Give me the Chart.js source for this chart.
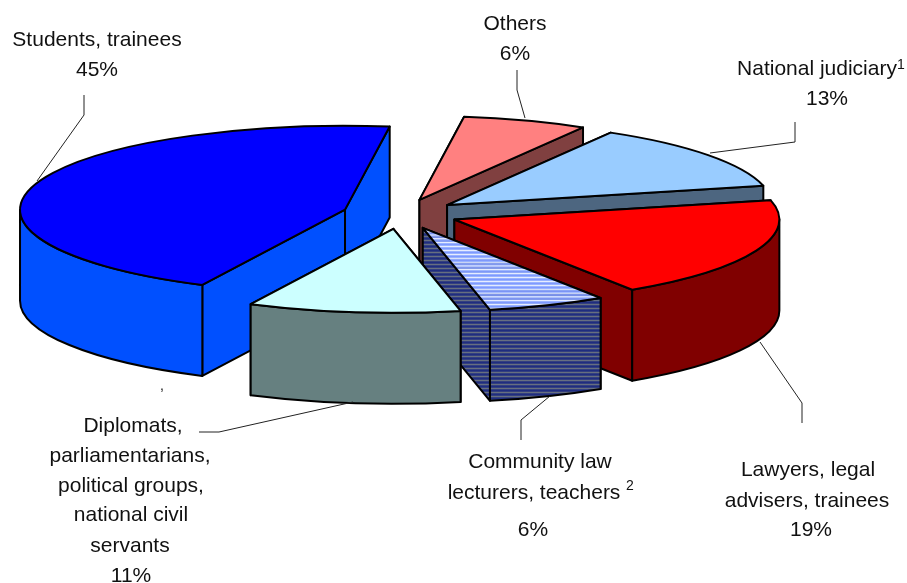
<!DOCTYPE html>
<html>
<head>
<meta charset="utf-8">
<style>
  html,body{margin:0;padding:0;background:#fff;}
  #wrap{width:907px;height:583px;}
</style>
<script src="https://cdn.jsdelivr.net/npm/chart.js@4"></script>
</head>
<body>
<div id="wrap"><canvas id="pie" width="907" height="583"></canvas></div>
<script>
/* ------- DATA ------- */
const categories = ["Others","National judiciary","Lawyers, legal advisers, trainees","Community law lecturers, teachers","Diplomats, parliamentarians, political groups, national civil servants","Students, trainees"];
const shares = [6.2,12.9,19.49,5.9,10.55,44.96];

/* ------- STYLE ------- */
const topColors = ["#ff8080","#99ccff","#ff0000",null,"#ccffff","#0000ff"];
const wallColors = ["#804040","#4d6680","#800000",null,"#668080","#0050ff"];
const drawOrder = [0,1,5,2,3,4];   // back to front

const TILT = 0.258;    // how flat the pie lies
const DEPTH = 91;      // wall height
const EXPLODE = 58;    // slices pulled out from the middle
const RADIUS = 325;
const FONT = '21px "Liberation Sans", Arial, sans-serif';

/* ------- TEXT + LEADERS ------- */
// one entry per category, [line, centre x, baseline]; the last line gets the percent
const labelLines = [
  [["Others",515,30]],
  [["National judiciary",817,75]],
  [["Lawyers, legal",808,476],["advisers, trainees",807,507]],
  [["Community law",540,468],["lecturers, teachers",534,499]],
  [["Diplomats,",133,432],["parliamentarians,",130,462],["political groups,",131,492],["national civil",131,521],["servants",130,552]],
  [["Students, trainees",97,46]]
];
const percentSpots = [[515,60],[827,105],[811,536],[533,536],[131,582],[97,76]];
const extraTexts = [["1",901,69,14],["2",630,490,14],[",",162,390,14]];
const leaders = [
  [[517,70],[517,90],[525,118]],
  [[795,122],[795,142],[710,153]],
  [[802,423],[802,403],[760,342]],
  [[521,440],[521,420],[550,396]],
  [[199,432],[219,432],[353,402]],
  [[84,95],[84,115],[37,181]]
];

/* ------- STRIPES (community law slice) ------- */
function stripes(list,stretch){
  const c = document.createElement("canvas");
  c.width = 2;
  c.height = list.length*stretch;
  const g = c.getContext("2d");
  list.forEach((col,i)=>{
    g.fillStyle = col;
    g.fillRect(0,i*stretch,2,stretch);
  });
  return g.createPattern(c,"repeat");
}
const ctxMain = document.getElementById("pie").getContext("2d");
topColors[3] = stripes(["#e6ecff","#99b3ff","#7f99ff","#99b3ff"],1/TILT);
wallColors[3] = stripes(["#666f80","#333f80","#1f2d80","#333f80"],1);

/* ------- 3D DRAW ------- */
function tilt(ctx,cy){
  ctx.translate(0,cy);
  ctx.scale(1,TILT);
  ctx.translate(0,-cy);
}

// parts of the rim that face the viewer
function frontSpans(a,b){
  const TAU = Math.PI*2;
  const start = ((a%TAU)+TAU)%TAU;
  const end = start+(b-a);
  const spans = [];
  [[0,Math.PI],[TAU,TAU+Math.PI]].forEach(r=>{
    const s = Math.max(start,r[0]), e = Math.min(end,r[1]);
    if(e>s) spans.push([s,e]);
  });
  return spans;
}

function paintFace(ctx,color){
  ctx.fillStyle = color;
  ctx.fill();
  ctx.stroke();
}

function drawSlice(ctx,arc,i){
  const {x,y,startAngle,endAngle,outerRadius} = arc.getProps(["x","y","startAngle","endAngle","outerRadius"],true);
  const mid = (startAngle+endAngle)/2;
  const ox = x+Math.cos(mid)*EXPLODE;
  const dy = Math.sin(mid)*EXPLODE*TILT;
  const apexY = y+dy;
  const rimX = a=>ox+Math.cos(a)*outerRadius;
  const rimY = a=>apexY+Math.sin(a)*outerRadius*TILT;

  ctx.lineWidth = 2;
  ctx.lineJoin = "round";
  ctx.strokeStyle = "#000";

  // cut faces
  [startAngle,endAngle].forEach(a=>{
    ctx.beginPath();
    ctx.moveTo(ox,apexY);
    ctx.lineTo(rimX(a),rimY(a));
    ctx.lineTo(rimX(a),rimY(a)+DEPTH);
    ctx.lineTo(ox,apexY+DEPTH);
    ctx.closePath();
    paintFace(ctx,wallColors[i]);
  });

  // outer wall
  frontSpans(startAngle,endAngle).forEach(s=>{
    ctx.beginPath();
    ctx.save();
    ctx.translate(ox-x,dy);
    tilt(ctx,y);
    ctx.arc(x,y,outerRadius,s[0],s[1]);
    ctx.restore();
    ctx.save();
    ctx.translate(ox-x,dy+DEPTH);
    tilt(ctx,y);
    ctx.arc(x,y,outerRadius,s[1],s[0],true);
    ctx.restore();
    ctx.closePath();
    paintFace(ctx,wallColors[i]);
  });

  // top, filled by the chart's own arc element
  ctx.save();
  ctx.translate(ox-x,dy);
  tilt(ctx,y);
  arc.draw(ctx);
  ctx.restore();

  // outline in screen space so the line stays even
  ctx.beginPath();
  ctx.save();
  ctx.translate(ox-x,dy);
  tilt(ctx,y);
  ctx.moveTo(x,y);
  ctx.arc(x,y,outerRadius,startAngle,endAngle);
  ctx.closePath();
  ctx.restore();
  ctx.stroke();
}

const pie3d = {
  id:"pie3d",
  beforeDatasetDraw(chart,args){
    const arcs = args.meta.data;
    drawOrder.forEach(i=>drawSlice(chart.ctx,arcs[i],i));
    return false;
  },
  afterDraw(chart){
    const ctx = chart.ctx;
    ctx.save();
    ctx.strokeStyle = "#222";
    ctx.lineWidth = 1;
    leaders.forEach(pts=>{
      ctx.beginPath();
      pts.forEach((p,n)=> n ? ctx.lineTo(p[0],p[1]) : ctx.moveTo(p[0],p[1]));
      ctx.stroke();
    });
    ctx.fillStyle = "#111";
    ctx.textAlign = "center";
    ctx.textBaseline = "alphabetic";
    ctx.font = FONT;
    labelLines.forEach((lines,i)=>{
      lines.forEach(l=>ctx.fillText(l[0],l[1],l[2]));
      ctx.fillText(Math.round(shares[i])+"%",percentSpots[i][0],percentSpots[i][1]);
    });
    extraTexts.forEach(t=>{
      ctx.font = t[3]+'px "Liberation Sans", Arial, sans-serif';
      ctx.fillText(t[0],t[1],t[2]);
    });
    ctx.restore();
  }
};

new Chart(ctxMain,{
  type:"pie",
  data:{ labels:categories, datasets:[{ data:shares, backgroundColor:topColors, borderWidth:0, offset:0 }]},
  options:{
    responsive:false,
    animation:false,
    devicePixelRatio:1,
    rotation:7.9,
    radius:RADIUS,
    layout:{ padding:{ left:0, top:0, right:106, bottom:155 }},
    plugins:{ legend:{ display:false }, tooltip:{ enabled:false }}
  },
  plugins:[pie3d]
});
</script>
</body>
</html>
